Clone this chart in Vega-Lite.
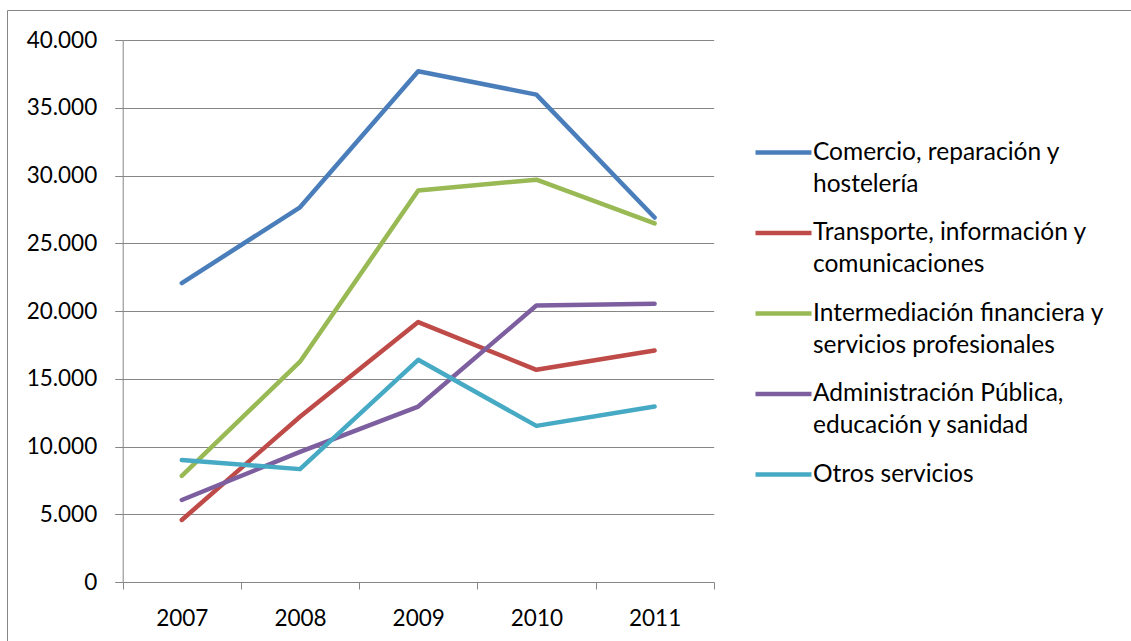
{
  "$schema": "https://vega.github.io/schema/vega-lite/v6.json",
  "width": 1135,
  "height": 640,
  "autosize": {"type": "none"},
  "padding": {"left": 7, "top": 10, "right": -11, "bottom": -9},
  "background": "white",
  "config": {
    "view": {"stroke": "#868686", "strokeWidth": 1},
    "font": "Lato"
  },
  "data": {
    "values": [
      {"sector": "Comercio, reparación y hostelería", "year": "2007", "value": 22060},
      {"sector": "Comercio, reparación y hostelería", "year": "2008", "value": 27650},
      {"sector": "Comercio, reparación y hostelería", "year": "2009", "value": 37690},
      {"sector": "Comercio, reparación y hostelería", "year": "2010", "value": 35970},
      {"sector": "Comercio, reparación y hostelería", "year": "2011", "value": 26900},
      {"sector": "Transporte, información y comunicaciones", "year": "2007", "value": 4580},
      {"sector": "Transporte, información y comunicaciones", "year": "2008", "value": 12200},
      {"sector": "Transporte, información y comunicaciones", "year": "2009", "value": 19180},
      {"sector": "Transporte, información y comunicaciones", "year": "2010", "value": 15660},
      {"sector": "Transporte, información y comunicaciones", "year": "2011", "value": 17080},
      {"sector": "Intermediación financiera y servicios profesionales", "year": "2007", "value": 7830},
      {"sector": "Intermediación financiera y servicios profesionales", "year": "2008", "value": 16260},
      {"sector": "Intermediación financiera y servicios profesionales", "year": "2009", "value": 28900},
      {"sector": "Intermediación financiera y servicios profesionales", "year": "2010", "value": 29690},
      {"sector": "Intermediación financiera y servicios profesionales", "year": "2011", "value": 26460},
      {"sector": "Administración Pública, educación y sanidad", "year": "2007", "value": 6050},
      {"sector": "Administración Pública, educación y sanidad", "year": "2008", "value": 9600},
      {"sector": "Administración Pública, educación y sanidad", "year": "2009", "value": 12950},
      {"sector": "Administración Pública, educación y sanidad", "year": "2010", "value": 20400},
      {"sector": "Administración Pública, educación y sanidad", "year": "2011", "value": 20530},
      {"sector": "Otros servicios", "year": "2007", "value": 9000},
      {"sector": "Otros servicios", "year": "2008", "value": 8330},
      {"sector": "Otros servicios", "year": "2009", "value": 16400},
      {"sector": "Otros servicios", "year": "2010", "value": 11520},
      {"sector": "Otros servicios", "year": "2011", "value": 12950}
    ]
  },
  "mark": {"type": "line", "strokeWidth": 4.5, "strokeCap": "round", "strokeJoin": "round"},
  "encoding": {
    "x": {
      "field": "year",
      "type": "ordinal",
      "scale": {"type": "band", "range": [115.7, 706.7], "paddingInner": 0, "paddingOuter": 0},
      "axis": {
        "title": null,
        "offset": -68,
        "tickBand": "extent",
        "tickSize": 7,
        "tickColor": "#868686",
        "domainColor": "#868686",
        "labelAngle": 0,
        "labelFontSize": 22.5,
        "labelColor": "#000000",
        "labelPadding": 18,
        "grid": false
      }
    },
    "y": {
      "field": "value",
      "type": "quantitative",
      "scale": {"domain": [0, 40000], "range": [572, 30], "nice": false, "zero": true},
      "axis": {
        "title": null,
        "offset": -115.7,
        "values": [0, 5000, 10000, 15000, 20000, 25000, 30000, 35000, 40000],
        "labelExpr": "replace(format(datum.value, ','), ',', '.')",
        "tickSize": 8,
        "tickColor": "#868686",
        "domainColor": "#868686",
        "gridColor": "#868686",
        "labelFontSize": 22.5,
        "labelColor": "#000000",
        "labelPadding": 18
      }
    },
    "color": {
      "field": "sector",
      "type": "nominal",
      "sort": null,
      "scale": {
        "domain": [
          "Comercio, reparación y hostelería",
          "Transporte, información y comunicaciones",
          "Intermediación financiera y servicios profesionales",
          "Administración Pública, educación y sanidad",
          "Otros servicios"
        ],
        "range": ["#4A7EBB", "#BE4B48", "#98B954", "#7D5FA0", "#46AAC5"]
      },
      "legend": {
        "title": null,
        "orient": "none",
        "legendX": 746,
        "legendY": 112,
        "symbolType": "stroke",
        "symbolSize": 3136,
        "symbolStrokeWidth": 4.5,
        "labelFontSize": 24.5,
        "labelColor": "#000000",
        "labelOffset": -1,
        "labelLimit": 400,
        "rowPadding": 6.5,
        "labelExpr": "datum.value == 'Comercio, reparación y hostelería' ? ['Comercio, reparación y', 'hostelería'] : datum.value == 'Transporte, información y comunicaciones' ? ['Transporte, información y', 'comunicaciones'] : datum.value == 'Intermediación financiera y servicios profesionales' ? ['Intermediación financiera y', 'servicios profesionales'] : datum.value == 'Administración Pública, educación y sanidad' ? ['Administración Pública,', 'educación y sanidad'] : datum.value",
        "encode": {"labels": {"update": {"lineHeight": {"value": 32}, "dy": {"signal": "isArray(datum.label) ? 16 : 0"}}}}
      }
    }
  }
}
